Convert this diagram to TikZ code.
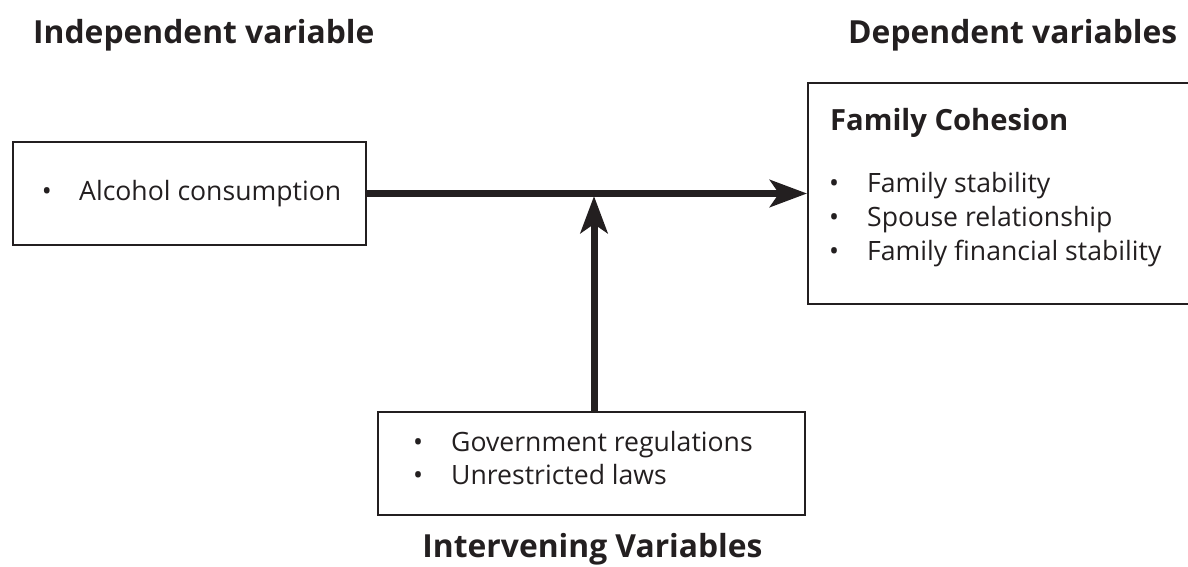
\documentclass[tikz,border=0pt]{standalone}
\usepackage{fontspec}
\setmainfont{Open Sans}
\usetikzlibrary{arrows.meta}
\definecolor{ink}{HTML}{231F20}
\tikzset{
  box/.style={draw=ink, line width=2pt, inner sep=0pt},
  title/.style={font=\fontsize{31.8}{38}\selectfont\bfseries, text=ink, anchor=base west, inner sep=0pt},
  head/.style={font=\fontsize{29.2}{35}\selectfont\bfseries, text=ink, anchor=base west, inner sep=0pt},
  txt/.style={font=\fontsize{26.6}{32}\selectfont, text=ink, anchor=base west, inner sep=0pt},
  bul/.style={font=\fontsize{26.6}{32}\selectfont, text=ink, anchor=base, inner sep=0pt},
  arr/.style={draw=ink, line width=7pt, -{Stealth[length=37pt, width=27pt, inset=9pt]}}
}
\begin{document}
\begin{tikzpicture}[x=1pt, y=-1pt]
\useasboundingbox (0,0) rectangle (1188,567);
% titles
\node[title] (tind) at (33,44) {Independent variable};
\node[title] (tdep) at (848,44) {Dependent variables};
\node[title, anchor=base] (tint) at (592.5,557) {Intervening Variables};
% boxes
\node[box, minimum width=353pt, minimum height=103pt, anchor=north west] (indep) at (12,141) {};
\node[box, minimum width=390pt, minimum height=221pt, anchor=north west] (dep) at (807,82) {};
\node[box, minimum width=427pt, minimum height=103pt, anchor=north west] (interv) at (377,411) {};
% left box text
\node[bul] (b1) at (47,200) {•};
\node[txt] (l1) at (79,200) {Alcohol consumption};
% right box text
\node[head] (dh) at (830,131) {Family Cohesion};
\node[bul] (b2) at (834,192) {•};
\node[txt] (r1) at (867,192) {Family stability};
\node[bul] (b3) at (834,226) {•};
\node[txt] (r2) at (867,226) {Spouse relationship};
\node[bul] (b4) at (834,260) {•};
\node[txt] (r3) at (867,260) {Family financial stability};
% bottom box text
\node[bul] (b5) at (418,451) {•};
\node[txt] (m1) at (451,451) {Government regulations};
\node[bul] (b6) at (418,484) {•};
\node[txt] (m2) at (451,484) {Unrestricted laws};
% connectors
\draw[arr] (indep.east) -- (dep.west);
\coordinate (vb) at (594,411);
\coordinate (vt) at (594,196);
\draw[arr] (vb) -- (vt);
\end{tikzpicture}
\end{document}
